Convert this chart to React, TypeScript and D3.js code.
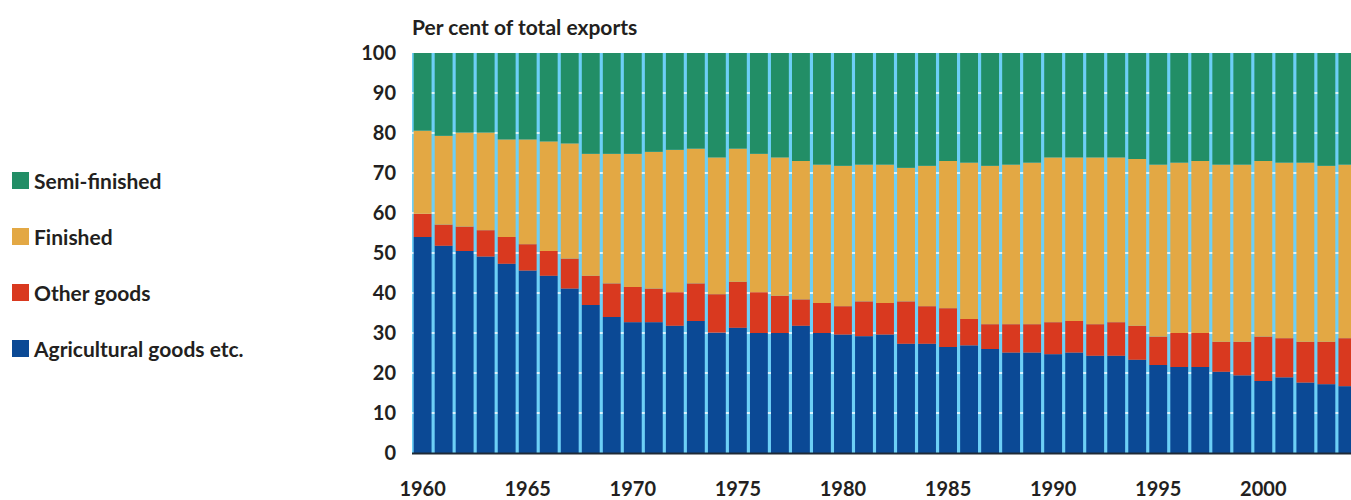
import React, { useRef, useEffect } from 'react';
import * as d3 from 'd3';

// years on the x axis
const years = d3.range(1960, 2005);

// shares of total exports, per cent
const agricultural = [
  54.0, 51.8, 50.5, 49.1, 47.3, 45.6, 44.3, 41.1, 37.0, 34.0,
  32.7, 32.7, 31.8, 33.0, 30.1, 31.3, 30.0, 30.0, 31.8, 30.0,
  29.6, 29.2, 29.6, 27.3, 27.3, 26.5, 26.9, 26.0, 25.1, 25.1,
  24.7, 25.1, 24.3, 24.3, 23.3, 22.0, 21.5, 21.5, 20.3, 19.4,
  18.0, 18.9, 17.6, 17.2, 16.7,
];
const otherGoods = [
  5.8, 5.3, 6.1, 6.6, 6.7, 6.6, 6.2, 7.5, 7.3, 8.4,
  8.8, 8.4, 8.4, 9.4, 9.6, 11.5, 10.2, 9.3, 6.6, 7.5,
  7.1, 8.7, 7.9, 10.6, 9.4, 9.7, 6.6, 6.2, 7.1, 7.1,
  8.0, 7.9, 7.9, 8.4, 8.5, 7.1, 8.5, 8.5, 7.5, 8.4,
  11.1, 9.8, 10.2, 10.6, 12.0,
];
const finished = [
  20.8, 22.2, 23.5, 24.4, 24.4, 26.2, 27.4, 28.8, 30.5, 32.4,
  33.3, 34.2, 35.6, 33.7, 34.2, 33.3, 34.6, 34.6, 34.6, 34.6,
  35.1, 34.2, 34.6, 33.4, 35.1, 36.8, 39.1, 39.6, 39.9, 40.4,
  41.2, 40.9, 41.7, 41.2, 41.7, 43.0, 42.6, 43.0, 44.3, 44.3,
  43.9, 43.9, 44.8, 44.0, 43.4,
];
const semiFinished = [
  19.4, 20.7, 19.9, 19.9, 21.6, 21.6, 22.1, 22.6, 25.2, 25.2,
  25.2, 24.7, 24.2, 23.9, 26.1, 23.9, 25.2, 26.1, 27.0, 27.9,
  28.2, 27.9, 27.9, 28.7, 28.2, 27.0, 27.4, 28.2, 27.9, 27.4,
  26.1, 26.1, 26.1, 26.1, 26.5, 27.9, 27.4, 27.0, 27.9, 27.9,
  27.0, 27.4, 27.4, 28.2, 27.9,
];

const seriesKeys = ['agri', 'other', 'finished', 'semi'];
const seriesLabels = {
  agri: 'Agricultural goods etc.',
  other: 'Other goods',
  finished: 'Finished',
  semi: 'Semi-finished',
};
const colors = {
  agri: '#0b4995',
  other: '#d9391f',
  finished: '#e3a844',
  semi: '#228e66',
};
const legendOrder = ['semi', 'finished', 'other', 'agri'];
const yTicks = d3.range(0, 101, 10);
const xTicks = [1960, 1965, 1970, 1975, 1980, 1985, 1990, 1995, 2000];

const FONT = 'Lato, "Open Sans", sans-serif';
const TEXT = '#231f20';

function ExportsChart() {
  const svgRef = useRef(null);

  useEffect(() => {
    const svg = d3.select(svgRef.current);
    svg.selectAll('*').remove();

    const margin = { top: 53, left: 412, bottom: 453, right: 1358 };

    const table = years.map((year, i) => ({
      year,
      agri: agricultural[i],
      other: otherGoods[i],
      finished: finished[i],
      semi: semiFinished[i],
    }));
    const stacked = d3.stack().keys(seriesKeys)(table);

    const xScale = d3.scaleBand()
      .domain(years)
      .range([margin.left, margin.right])
      .paddingInner(0.15)
      .paddingOuter(0.08);

    const yScale = d3.scaleLinear()
      .domain([0, 100])
      .range([margin.bottom, margin.top]);

    // light blue plot background
    svg.append('rect')
      .attr('x', margin.left)
      .attr('y', margin.top)
      .attr('width', margin.right - margin.left)
      .attr('height', margin.bottom - margin.top)
      .attr('fill', '#6dcff6');

    // white gridlines, visible only in the gaps
    svg.append('g')
      .selectAll('line')
      .data(yTicks.filter(d => d > 0 && d < 100))
      .enter().append('line')
      .attr('x1', margin.left)
      .attr('x2', margin.right)
      .attr('y1', d => yScale(d))
      .attr('y2', d => yScale(d))
      .attr('stroke', '#ffffff')
      .attr('stroke-width', 1.5);

    svg.append('g')
      .selectAll('g')
      .data(stacked)
      .enter().append('g')
      .attr('fill', d => colors[d.key])
      .selectAll('rect')
      .data(d => d)
      .enter().append('rect')
      .attr('x', d => xScale(d.data.year))
      .attr('width', xScale.bandwidth())
      .attr('y', d => yScale(d[1]))
      .attr('height', d => yScale(d[0]) - yScale(d[1]));

    // baseline
    svg.append('line')
      .attr('x1', margin.left)
      .attr('x2', margin.right)
      .attr('y1', margin.bottom + 0.5)
      .attr('y2', margin.bottom + 0.5)
      .attr('stroke', '#1f2a36')
      .attr('stroke-width', 2);

    // y axis labels
    svg.append('g')
      .attr('transform', `translate(${margin.left - 16},0)`)
      .call(d3.axisLeft(yScale).tickValues(yTicks).tickSize(0).tickPadding(0))
      .call(g => g.select('.domain').remove())
      .call(g => g.selectAll('text')
        .attr('fill', TEXT)
        .style('font', `bold 20px ${FONT}`));

    // x axis labels
    svg.append('g')
      .attr('transform', `translate(0,${margin.bottom + 29})`)
      .call(d3.axisBottom(xScale).tickValues(xTicks).tickSize(0).tickPadding(0))
      .call(g => g.select('.domain').remove())
      .call(g => g.selectAll('text')
        .attr('fill', TEXT)
        .style('font', `bold 20px ${FONT}`));

    svg.append('text')
      .attr('x', margin.left)
      .attr('y', 35)
      .attr('fill', TEXT)
      .style('font', `bold 21px ${FONT}`)
      .text('Per cent of total exports');

    // legend
    const legend = svg.append('g')
      .selectAll('g')
      .data(legendOrder)
      .enter().append('g')
      .attr('transform', (d, i) => `translate(12,${181 + i * 56})`);

    legend.append('rect')
      .attr('x', 0)
      .attr('y', -9)
      .attr('width', 17)
      .attr('height', 17)
      .attr('fill', d => colors[d]);

    legend.append('text')
      .attr('x', 22)
      .attr('dy', '0.36em')
      .attr('fill', TEXT)
      .style('font', `bold 21px ${FONT}`)
      .text(d => seriesLabels[d]);
  }, []);

  return (
    <svg
      ref={svgRef}
      width={1351}
      height={500}
      style={{ position: 'absolute', left: 0, top: 0, background: '#fff', overflow: 'hidden' }}
    ></svg>
  );
}

export default function App() {
  return <ExportsChart />;
}
